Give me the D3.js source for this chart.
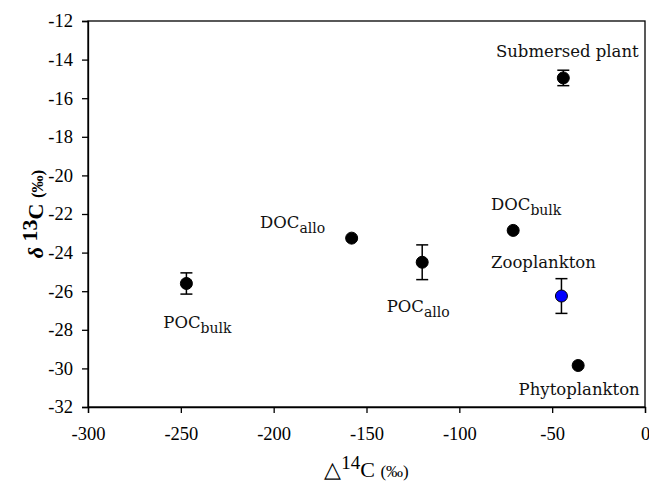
<!DOCTYPE html>
<html>
<head>
<meta charset="utf-8">
<script src="https://cdn.jsdelivr.net/npm/d3@7/dist/d3.min.js"></script>
<style>
  body { margin: 0; background: #fff; }
  svg { display: block; }
</style>
</head>
<body>
<div id="chart"></div>
<script>
// data
var labels    = ["POC", "DOC", "POC", "DOC", "Submersed plant", "Zooplankton", "Phytoplankton"];
var subLabels = ["bulk", "allo", "allo", "bulk", "", "", ""];
var delta14C  = [-247, -158, -120, -71, -44, -45, -36];
var delta13C  = [-25.6, -23.25, -24.5, -22.85, -14.95, -26.25, -29.85];
var errors    = [0.55, 0, 0.9, 0, 0.4, 0.9, 0];
var pointFill = ["#000", "#000", "#000", "#000", "#000", "#0000ff", "#000"];
var xTicks = [-300, -250, -200, -150, -100, -50, 0];
var yTicks = [-32, -30, -28, -26, -24, -22, -20, -18, -16, -14, -12];

// label offsets from each point (px)
var labelDx = [11, -59, -4, 13, 4, -18, 1];
var labelDy = [45, -10, 50, -20, -21, -28, 29];

(function chart() {
  var W = 649, H = 482;
  var box = {left: 88, right: 645, top: 21, bottom: 407};

  var data = labels.map(function(d, i) {
    return {name: d, sub: subLabels[i], x: delta14C[i], y: delta13C[i], e: errors[i],
            fill: pointFill[i], dx: labelDx[i], dy: labelDy[i]};
  });

  var x = d3.scaleLinear().domain([-300, 0]).range([box.left, box.right]);
  var y = d3.scaleLinear().domain([-32, -12]).range([box.bottom, box.top]);

  var svg = d3.select("#chart").append("svg")
    .attr("width", W)
    .attr("height", H);

  // frame
  svg.append("rect")
    .attr("x", box.left).attr("y", box.top)
    .attr("width", box.right - box.left).attr("height", box.bottom - box.top)
    .attr("fill", "none").attr("stroke", "#000").attr("stroke-width", 1.3);

  svg.append("g")
    .attr("transform", "translate(0," + box.bottom + ")")
    .call(d3.axisBottom(x).tickValues(xTicks).tickSizeOuter(0).tickSize(6).tickPadding(14)
      .tickFormat(function(d) { return String(d); }));

  svg.append("g")
    .attr("transform", "translate(" + box.left + ",0)")
    .call(d3.axisLeft(y).tickValues(yTicks).tickSizeOuter(0).tickSize(6).tickPadding(9)
      .tickFormat(function(d) { return String(d); }));

  svg.selectAll(".tick text")
    .style("font-family", "'Liberation Serif', serif")
    .style("font-size", "18.5px")
    .attr("fill", "#000");
  svg.selectAll(".tick line").attr("stroke", "#000").attr("stroke-width", 1.3);
  svg.selectAll(".domain").attr("stroke", "#000").attr("stroke-width", 1.3);

  // error bars
  var eb = svg.selectAll(".err")
    .data(data.filter(function(d) { return d.e > 0; }))
    .enter().append("g").attr("class", "err")
    .attr("stroke", "#000").attr("stroke-width", 1.5);
  eb.append("line")
    .attr("x1", function(d) { return x(d.x); }).attr("x2", function(d) { return x(d.x); })
    .attr("y1", function(d) { return y(d.y + d.e); }).attr("y2", function(d) { return y(d.y - d.e); });
  eb.append("line")
    .attr("x1", function(d) { return x(d.x) - 6; }).attr("x2", function(d) { return x(d.x) + 6; })
    .attr("y1", function(d) { return y(d.y + d.e); }).attr("y2", function(d) { return y(d.y + d.e); });
  eb.append("line")
    .attr("x1", function(d) { return x(d.x) - 6; }).attr("x2", function(d) { return x(d.x) + 6; })
    .attr("y1", function(d) { return y(d.y - d.e); }).attr("y2", function(d) { return y(d.y - d.e); });

  // points
  svg.selectAll(".pt")
    .data(data)
    .enter().append("circle")
    .attr("class", "pt")
    .attr("cx", function(d) { return x(d.x); })
    .attr("cy", function(d) { return y(d.y); })
    .attr("r", 6)
    .attr("fill", function(d) { return d.fill; })
    .attr("stroke", "#000").attr("stroke-width", 1);

  // point labels
  var lab = svg.selectAll(".lab")
    .data(data)
    .enter().append("text")
    .attr("class", "lab")
    .attr("x", function(d) { return x(d.x) + d.dx; })
    .attr("y", function(d) { return y(d.y) + d.dy; })
    .attr("text-anchor", "middle")
    .style("font-family", "'DejaVu Serif', serif")
    .style("font-size", "16.5px")
    .attr("fill", "#111");
  lab.append("tspan").text(function(d) { return d.name; });
  lab.filter(function(d) { return d.sub; })
    .append("tspan")
    .attr("dy", 5)
    .style("font-size", "14px")
    .text(function(d) { return d.sub; });

  // y axis title
  var yt = svg.append("text")
    .attr("transform", "translate(43," + ((box.top + box.bottom) / 2) + ") rotate(-90)")
    .attr("text-anchor", "middle")
    .style("font-family", "'Liberation Serif', serif")
    .style("font-weight", "bold")
    .style("font-size", "22px");
  yt.append("tspan").style("font-style", "italic").text("\u03b4 ");
  yt.append("tspan").attr("dy", -6).text("13");
  yt.append("tspan").attr("dy", 6).text("C ");
  yt.append("tspan").style("font-size", "17px").text("(\u2030)");

  // x axis title
  var xt = svg.append("text")
    .attr("x", (box.left + box.right) / 2)
    .attr("y", 477)
    .attr("text-anchor", "middle")
    .style("font-family", "'Liberation Serif', serif")
    .style("font-size", "22px");
  xt.append("tspan").text("\u25b3");
  xt.append("tspan").attr("dy", -8).style("font-size", "19px").text("14");
  xt.append("tspan").attr("dy", 8).text("C ");
  xt.append("tspan").style("font-size", "17px").text("(\u2030)");
}());
</script>
</body>
</html>
